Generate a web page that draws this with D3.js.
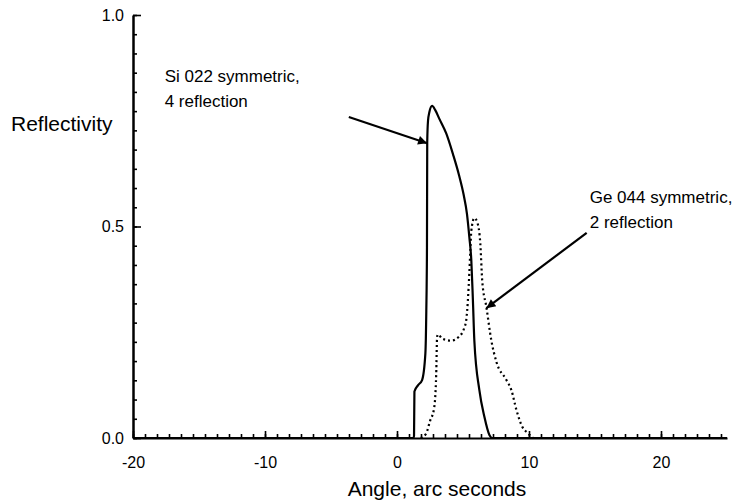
<!DOCTYPE html>
<html>
<head>
<meta charset="utf-8">
<script src="https://cdn.jsdelivr.net/npm/d3@7"></script>
<style>
  body { margin: 0; background: #fff; }
  svg { display: block; }
</style>
</head>
<body>
<svg id="chart" width="746" height="504"></svg>
<script>
// Si 022 symmetric, 4 reflection (solid)
const siAngle = [-20, 1.25, 1.29, 1.32, 1.6, 1.9, 2.15, 2.22, 2.27, 2.29, 2.35, 2.45, 2.66, 2.9, 3.2, 3.73, 4.25, 4.71, 5.05, 5.3, 5.48, 5.63, 5.75, 5.86, 6.24, 6.62, 7.0, 7.2, 25];
const siRefl  = [0, 0, 0.005, 0.11, 0.125, 0.137, 0.2, 0.3, 0.45, 0.7, 0.75, 0.77, 0.785, 0.775, 0.755, 0.72, 0.67, 0.62, 0.575, 0.53, 0.475, 0.42, 0.326, 0.23, 0.113, 0.05, 0.007, 0, 0];

// Ge 044 symmetric, 2 reflection (dotted)
const geAngle = [1.8, 2.2, 2.5, 2.81, 2.97, 3.04, 3.12, 3.42, 4.1, 4.71, 5.09, 5.25, 5.48, 5.55, 5.63, 5.86, 6.08, 6.31, 6.46, 6.77, 7.15, 7.53, 8.29, 8.67, 9.05, 9.5, 9.9, 10.3];
const geRefl  = [0, 0.01, 0.04, 0.07, 0.15, 0.24, 0.245, 0.235, 0.23, 0.24, 0.26, 0.28, 0.39, 0.44, 0.49, 0.52, 0.51, 0.46, 0.37, 0.31, 0.23, 0.18, 0.137, 0.113, 0.066, 0.026, 0.012, 0];

const xMajorTicks = [-20, -10, 0, 10, 20];
const yMajorTicks = [0, 0.5, 1.0];

// annotations: label lines, text anchor (angle, refl), arrow start, arrow tip
const annotations = [
  { lines: ["Si 022 symmetric,", "4 reflection"], tx: -17.6, ty: 0.842, from: [-3.65, 0.759], to: [2.28, 0.697] },
  { lines: ["Ge 044 symmetric,", "2 reflection"], tx: 14.6, ty: 0.555, from: [14.37, 0.485], to: [6.77, 0.307] }
];

let svg = d3.select("#chart");
let font = "'Liberation Sans', Arial, Helvetica, sans-serif";

let x = d3.scaleLinear().domain([-20, 25]).range([133, 727]);
let y = d3.scaleLinear().domain([0, 1]).range([438, 15]);

// minor ticks (11 divisions per major step)
let xMinor = d3.range(0, 50).map(i => -20 + i * 10 / 11).filter(v => v <= 25);
let yMinor = d3.range(0, 23).map(i => i * 0.5 / 11);

// x axis
svg.append("g")
  .attr("transform", "translate(0," + y(0) + ")")
  .call(d3.axisBottom(x).tickValues(xMinor).tickSize(-4).tickSizeOuter(0).tickFormat(""))
  .call(g => g.select(".domain").attr("stroke-width", 2))
  .selectAll(".tick line").attr("stroke-width", 1.6);

svg.append("g")
  .attr("transform", "translate(0," + y(0) + ")")
  .call(d3.axisBottom(x).tickValues(xMajorTicks).tickSize(-7).tickSizeOuter(0).tickPadding(19).tickFormat(d => String(d)))
  .call(g => g.select(".domain").remove())
  .call(g => g.selectAll(".tick line").attr("stroke-width", 1.6))
  .selectAll("text")
    .style("font-family", font)
    .style("font-size", "16px")
    .attr("fill", "#000");

// y axis
svg.append("g")
  .attr("transform", "translate(" + x(-20) + ",0)")
  .call(d3.axisLeft(y).tickValues(yMinor).tickSize(-4).tickSizeOuter(0).tickFormat(""))
  .call(g => g.select(".domain").attr("stroke-width", 2.5))
  .selectAll(".tick line").attr("stroke-width", 1.6);

svg.append("g")
  .attr("transform", "translate(" + x(-20) + ",0)")
  .call(d3.axisLeft(y).tickValues(yMajorTicks).tickSize(-8).tickSizeOuter(0).tickPadding(9).tickFormat(d3.format(".1f")))
  .call(g => g.select(".domain").remove())
  .call(g => g.selectAll(".tick line").attr("stroke-width", 1.6))
  .selectAll("text")
    .style("font-family", font)
    .style("font-size", "16px")
    .attr("fill", "#000");

// axis titles
svg.append("text")
  .attr("x", 11)
  .attr("y", 131)
  .text("Reflectivity")
  .style("font-family", font)
  .style("font-size", "21px");

svg.append("text")
  .attr("x", 437)
  .attr("y", 496)
  .attr("text-anchor", "middle")
  .text("Angle, arc seconds")
  .style("font-family", font)
  .style("font-size", "21px");

// curves
let line = d3.line()
  .curve(d3.curveMonotoneX)
  .x(d => x(d[0]))
  .y(d => y(d[1]));

svg.append("path")
  .datum(d3.zip(siAngle, siRefl))
  .attr("d", line)
  .attr("fill", "none")
  .attr("stroke", "#000")
  .attr("stroke-width", 2.2)
  .attr("stroke-linejoin", "round");

svg.append("path")
  .datum(d3.zip(geAngle, geRefl))
  .attr("d", line)
  .attr("fill", "none")
  .attr("stroke", "#000")
  .attr("stroke-width", 2.2)
  .attr("stroke-dasharray", "2,3");

// arrowhead
svg.append("defs").append("marker")
  .attr("id", "arrow")
  .attr("viewBox", "0 0 10 10")
  .attr("refX", 10)
  .attr("refY", 5)
  .attr("markerUnits", "userSpaceOnUse")
  .attr("markerWidth", 13)
  .attr("markerHeight", 9)
  .attr("orient", "auto")
  .append("path")
    .attr("d", "M0,0L10,5L0,10z")
    .attr("fill", "#000");

annotations.forEach(function(a) {
  let t = svg.append("text")
    .attr("x", x(a.tx))
    .attr("y", y(a.ty))
    .style("font-family", font)
    .style("font-size", "17px");
  a.lines.forEach(function(l, i) {
    t.append("tspan")
      .attr("x", x(a.tx))
      .attr("dy", i == 0 ? 0 : 25)
      .text(l);
  });

  svg.append("line")
    .attr("x1", x(a.from[0]))
    .attr("y1", y(a.from[1]))
    .attr("x2", x(a.to[0]))
    .attr("y2", y(a.to[1]))
    .attr("stroke", "#000")
    .attr("stroke-width", 2.2)
    .attr("marker-end", "url(#arrow)");
});
</script>
</body>
</html>
